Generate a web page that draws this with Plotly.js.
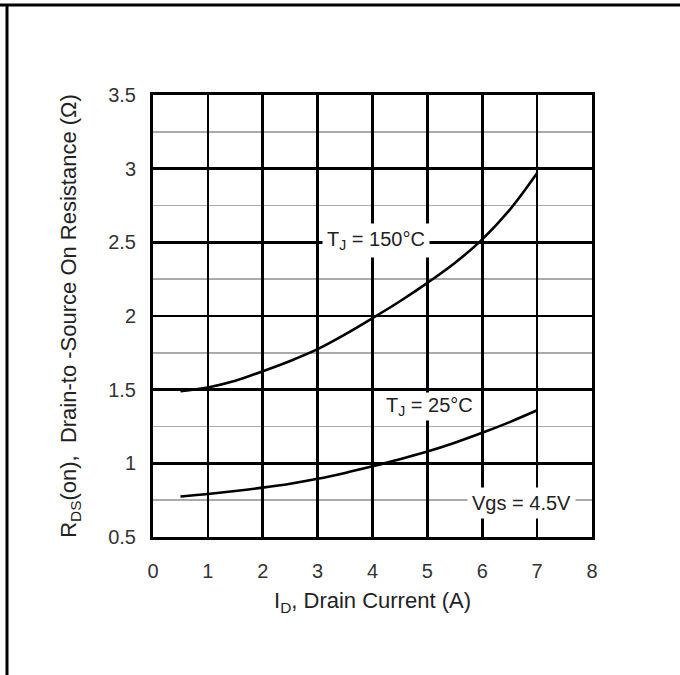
<!DOCTYPE html>
<html>
<head>
<meta charset="utf-8">
<script src="https://cdn.plot.ly/plotly-3.0.1.min.js"></script>
<style>html,body{margin:0;padding:0;background:#fff;}#chart{width:680px;height:675px;}</style>
</head>
<body>
<div id="chart"></div>
<script>
// Drain current (A) and on-resistance (ohm)
const idHot = [0.5, 1, 1.5, 2, 2.5, 3, 3.5, 4, 4.5, 5, 5.5, 6, 6.5, 7];
const rdsHot = [1.49, 1.515, 1.56, 1.625, 1.695, 1.775, 1.875, 1.985, 2.10, 2.225, 2.36, 2.52, 2.72, 2.97];
const idCold = [0.5, 1, 1.5, 2, 2.5, 3, 3.5, 4, 4.5, 5, 5.5, 6, 6.5, 7];
const rdsCold = [0.775, 0.792, 0.812, 0.835, 0.862, 0.895, 0.935, 0.98, 1.028, 1.08, 1.14, 1.207, 1.28, 1.36];
const xTicks = [0, 1, 2, 3, 4, 5, 6, 7, 8];
const yTicks = [0.5, 1, 1.5, 2, 2.5, 3, 3.5];
const yTickText = ["0.5", "1", "1.5", "2", "2.5", "3", "3.5"];
const labels = ["T<sub>J</sub> = 150°C", "T<sub>J</sub> = 25°C", "Vgs = 4.5V"];
const labelX = [4.06, 5.03, 6.72];
const labelY = [2.51, 1.385, 0.73];

const font = "Liberation Sans, Arial, Helvetica, sans-serif";
const L = 153, R = 88, T = 95, B = 138, W = 680, H = 675;
const pw = W - L - R, ph = H - T - B;
const px = x => (x - L) / pw;
const py = y => (H - B - y) / ph;

const traces = [
  {x: idHot, y: rdsHot, mode: "lines", line: {color: "#000", width: 2.6, shape: "spline", smoothing: 1}, hoverinfo: "skip"},
  {x: idCold, y: rdsCold, mode: "lines", line: {color: "#000", width: 2.6, shape: "spline", smoothing: 1}, hoverinfo: "skip"}
];

const annotations = labels.map((t, i) => ({
  x: labelX[i], y: labelY[i], xref: "x", yref: "y", text: t, showarrow: false,
  font: {family: font, size: 20, color: "#222"}, bgcolor: "#fff",
  borderpad: i === 1 ? 1 : 4
}));

const layout = {
  width: W, height: H,
  margin: {l: L, r: R, t: T, b: B},
  font: {family: font, size: 20, color: "#333"},
  paper_bgcolor: "#fff", plot_bgcolor: "#fff",
  showlegend: false,
  xaxis: {
    range: [0, 8], tickvals: xTicks, ticktext: xTicks.map(String),
    showgrid: true, gridcolor: "#000", gridwidth: 2.6,
    showline: true, linecolor: "#000", linewidth: 3, mirror: true,
    zeroline: false, ticks: "outside", ticklen: 14, tickcolor: "rgba(0,0,0,0)",
    tickfont: {family: font, size: 20, color: "#333"},
    title: {text: "I<sub>D</sub>, Drain Current (A)", font: {family: font, size: 22, color: "#222"}, standoff: 12}
  },
  yaxis: {
    range: [0.5, 3.5], tickvals: yTicks, ticktext: yTickText,
    showgrid: true, gridcolor: "#000", gridwidth: 2.6,
    minor: {dtick: 0.25, tick0: 0.5, showgrid: true, gridcolor: "#aaa", gridwidth: 1.5, ticks: ""},
    showline: true, linecolor: "#000", linewidth: 3, mirror: true,
    zeroline: false, ticks: "outside", ticklen: 10, tickcolor: "rgba(0,0,0,0)",
    tickfont: {family: font, size: 20, color: "#333"},
    title: {text: "R<sub>DS</sub>(on),  Drain-to -Source On Resistance (Ω)", font: {family: font, size: 22, color: "#222"}, standoff: 26}
  },
  annotations: annotations,
  shapes: [
    {type: "line", xref: "paper", yref: "paper", x0: px(-5), x1: px(W + 5), y0: py(5), y1: py(5), line: {color: "#000", width: 3}},
    {type: "line", xref: "paper", yref: "paper", x0: px(7), x1: px(7), y0: py(5), y1: py(H + 5), line: {color: "#000", width: 3}}
  ]
};

Plotly.newPlot("chart", traces, layout, {staticPlot: true, displayModeBar: false});
</script>
</body>
</html>
